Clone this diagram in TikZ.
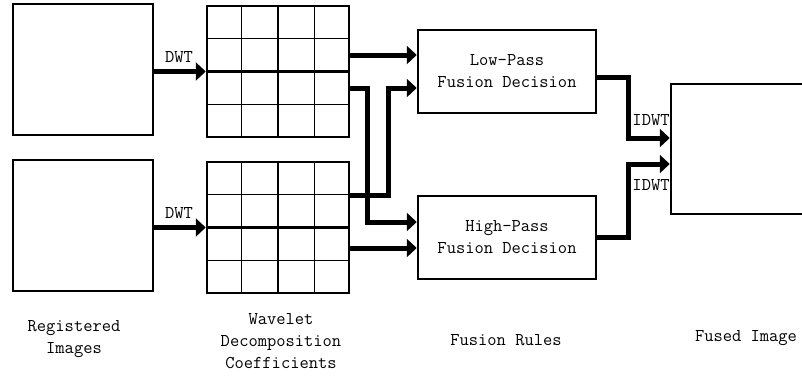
\documentclass[tikz,border=0pt]{standalone}
\usepackage{fontspec}
\usetikzlibrary{arrows.meta,calc}

\begin{document}
\begin{tikzpicture}[x=1pt,y=-1pt,
  box/.style={draw,line width=2.5pt,inner sep=0pt},
  txt/.style={font=\ttfamily\fontsize{18}{22}\selectfont,align=center,inner sep=0pt},
  flow/.style={line width=5pt,line join=miter,-{Triangle[length=10pt,width=18pt]}},
  thin grid/.style={line width=1pt},
  thick grid/.style={line width=2.5pt},
  ]
\useasboundingbox (0,0) rectangle (802,381);
\clip (0,0) rectangle (802,381);

% input images
\node[box,minimum width=140pt,minimum height=131pt] (reg1) at (83,69.5) {};
\node[box,minimum width=140pt,minimum height=131pt] (reg2) at (83,225.5) {};

% wavelet coefficient grids
\node[box,minimum width=142pt,minimum height=131pt] (wav1) at (278,71.5) {};
\node[box,minimum width=142pt,minimum height=131pt] (wav2) at (278,227.5) {};
\foreach \g in {wav1,wav2}{
  \foreach \i/\st in {1/thin grid,2/thick grid,3/thin grid}{
    \draw[\st] ($(\g.north west)!\i/4!(\g.north east)$) -- ($(\g.south west)!\i/4!(\g.south east)$);
    \draw[\st] ($(\g.north west)!\i/4!(\g.south west)$) -- ($(\g.north east)!\i/4!(\g.south east)$);
  }
}

% fusion rule blocks
\node[box,txt,minimum width=178pt,minimum height=83pt] (low) at (507,71.5) {Low-Pass\\Fusion Decision};
\node[box,txt,minimum width=178pt,minimum height=83pt] (high) at (507,237.5) {High-Pass\\Fusion Decision};

% fused output
\node[box,minimum width=160pt,minimum height=130pt] (fused) at (751,149) {};

% decomposition
\draw[flow] (reg1.east |- wav1.west) -- (wav1.west);
\draw[flow] (reg2.east |- wav2.west) -- (wav2.west);
\node[txt] (dwt1) at (179,57) {DWT};
\node[txt] (dwt2) at (179,213) {DWT};

% coefficients to fusion rules
\draw[flow] (wav1.east |- 0,55) -- (low.west |- 0,55);
\draw[flow] (wav1.east |- 0,88) -| (367,222) -- (high.west |- 0,222);
\draw[flow] (wav2.east |- 0,195) -| (388,88) -- (low.west |- 0,88);
\draw[flow] (wav2.east |- 0,248) -- (high.west |- 0,248);

% reconstruction
\draw[flow] (low.east |- 0,77) -| (628,138) -- (fused.west |- 0,138);
\draw[flow] (high.east |- 0,237) -| (628,164) -- (fused.west |- 0,164);
\node[txt,anchor=east] (idwt1) at (fused.west |- 0,120) {IDWT};
\node[txt,anchor=east] (idwt2) at (fused.west |- 0,185) {IDWT};

% column captions
\node[txt] (capreg) at (74,339) {Registered\\Images};
\node[txt] (capwav) at (281,341) {Wavelet\\Decomposition\\Coefficients};
\node[txt] (caprule) at (506,340) {Fusion Rules};
\node[txt] (capfused) at (746,338) {Fused Image};
\end{tikzpicture}
\end{document}
